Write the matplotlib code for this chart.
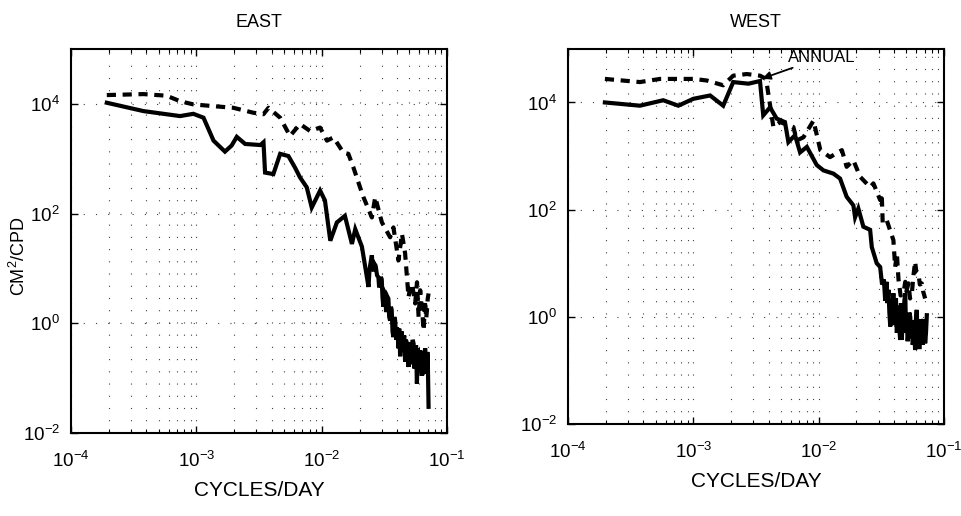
import math
import matplotlib
matplotlib.use("Agg")
import matplotlib.pyplot as plt
from matplotlib.ticker import FixedLocator, LogLocator, NullFormatter, FuncFormatter

plt.rcParams['font.family'] = ['Liberation Sans', 'DejaVu Sans']
plt.rcParams['mathtext.default'] = 'regular'

# ---------------- data (cycles/day, cm^2/cpd) ----------------
east_solid_f = [1.93e-4, 3.78e-4, 7.41e-4, 9.46e-4, 1.14e-3, 1.37e-3, 1.69e-3, 1.91e-3, 2.10e-3,
                2.45e-3, 3.24e-3, 3.43e-3, 3.53e-3, 4.11e-3, 4.66e-3, 5.42e-3, 6.12e-3, 6.71e-3,
                7.59e-3, 8.32e-3, 9.70e-3, 1.06e-2, 1.17e-2, 1.32e-2, 1.53e-2, 1.74e-2, 1.85e-2,
                2.09e-2, 2.36e-2, 2.40e-2, 2.43e-2, 2.47e-2, 2.51e-2, 2.55e-2, 2.60e-2, 2.64e-2,
                2.69e-2, 2.76e-2, 2.83e-2, 2.87e-2, 2.92e-2, 2.96e-2, 3.01e-2, 3.05e-2, 3.10e-2,
                3.15e-2, 3.21e-2, 3.26e-2, 3.31e-2, 3.35e-2, 3.40e-2, 3.45e-2, 3.51e-2, 3.56e-2,
                3.61e-2, 3.67e-2, 3.73e-2, 3.79e-2, 3.85e-2, 3.92e-2, 3.98e-2, 4.03e-2, 4.09e-2,
                4.15e-2, 4.22e-2, 4.28e-2, 4.35e-2, 4.42e-2, 4.49e-2, 4.55e-2, 4.62e-2, 4.69e-2,
                4.76e-2, 4.84e-2, 4.92e-2, 5.00e-2, 5.07e-2, 5.15e-2, 5.22e-2, 5.31e-2, 5.40e-2,
                5.48e-2, 5.56e-2, 5.65e-2, 5.74e-2, 5.83e-2, 5.92e-2, 6.01e-2, 6.10e-2, 6.19e-2,
                6.28e-2, 6.38e-2, 6.49e-2, 6.58e-2, 6.68e-2, 6.79e-2, 6.90e-2, 6.95e-2, 7.00e-2,
                7.06e-2, 7.11e-2]
east_solid_p = [10500, 7400, 6000, 6600, 5600, 2140, 1350, 1740, 2510,
                1860, 1780, 2000, 560, 525, 1230, 1120, 690, 457,
                302, 129, 263, 174, 32, 69, 91, 28, 52,
                25, 4.6, 9.0, 11.2, 14.0, 17.4, 10.0, 8.9, 12.0,
                11.2, 7.5, 6.9, 4.5, 5.0, 7.0, 6.3, 3.0, 2.0,
                3.8, 3.5, 1.6, 2.2, 3.0, 2.8, 1.3, 1.12, 2.0,
                1.78, 0.70, 0.56, 1.3, 1.12, 0.50, 0.85, 0.60, 0.35,
                0.80, 0.25, 0.55, 0.71, 0.30, 0.49, 0.60, 0.20, 0.50,
                0.45, 0.25, 0.16, 0.45, 0.40, 0.20, 0.18, 0.50, 0.43,
                0.15, 0.25, 0.40, 0.079, 0.35, 0.28, 0.15, 0.32, 0.20,
                0.11, 0.30, 0.12, 0.25, 0.35, 0.15, 0.16, 0.30, 0.25,
                0.08, 0.030]

east_dash_f = [1.93e-4, 3.78e-4, 5.79e-4, 7.41e-4, 9.46e-4, 1.37e-3, 1.97e-3, 2.85e-3, 3.43e-3,
               3.76e-3, 4.66e-3, 5.58e-3, 6.71e-3, 8.07e-3, 9.70e-3, 1.10e-2, 1.24e-2, 1.49e-2,
               1.63e-2, 1.79e-2, 2.02e-2, 2.15e-2, 2.51e-2, 2.67e-2, 2.92e-2, 3.02e-2, 3.51e-2,
               3.73e-2, 4.09e-2, 4.36e-2, 4.62e-2, 4.92e-2, 5.08e-2, 5.24e-2, 5.40e-2, 5.56e-2,
               5.75e-2, 5.92e-2, 6.10e-2, 6.20e-2, 6.31e-2, 6.49e-2, 6.68e-2, 6.80e-2, 6.90e-2,
               7.00e-2, 7.11e-2]
east_dash_p = [14500, 15100, 14100, 11200, 9800, 9100, 8500, 6900, 6500,
               8500, 5600, 2600, 4300, 3200, 3700, 2140, 2450, 1290,
               1230, 690, 302, 200, 85, 200, 91, 69, 37,
               56, 14, 43, 19, 3.0, 4.5, 5.2, 3.5, 2.3,
               5.6, 1.3, 4.0, 2.5, 1.8, 0.74, 2.6, 1.2, 1.7,
               2.8, 3.5]

west_solid_f = [1.97e-4, 3.75e-4, 5.75e-4, 7.59e-4, 1.00e-3, 1.36e-3, 1.73e-3, 2.08e-3, 2.75e-3,
                3.40e-3, 3.61e-3, 4.09e-3, 4.62e-3, 5.38e-3, 5.73e-3, 6.47e-3, 7.10e-3, 8.04e-3,
                9.64e-3, 1.09e-2, 1.31e-2, 1.48e-2, 1.67e-2, 1.89e-2, 1.95e-2, 2.07e-2, 2.27e-2,
                2.57e-2, 2.65e-2, 2.90e-2, 3.09e-2, 3.20e-2, 3.31e-2, 3.39e-2, 3.47e-2, 3.53e-2,
                3.60e-2, 3.66e-2, 3.72e-2, 3.79e-2, 3.86e-2, 3.94e-2, 4.00e-2, 4.07e-2, 4.13e-2,
                4.20e-2, 4.26e-2, 4.33e-2, 4.40e-2, 4.46e-2, 4.53e-2, 4.60e-2, 4.68e-2, 4.75e-2,
                4.82e-2, 4.90e-2, 4.97e-2, 5.05e-2, 5.12e-2, 5.20e-2, 5.28e-2, 5.37e-2, 5.45e-2,
                5.53e-2, 5.61e-2, 5.70e-2, 5.78e-2, 5.87e-2, 5.96e-2, 6.05e-2, 6.14e-2, 6.24e-2,
                6.34e-2, 6.44e-2, 6.54e-2, 6.64e-2, 6.74e-2, 6.84e-2, 6.95e-2, 7.06e-2, 7.17e-2,
                7.28e-2]
west_solid_p = [10000, 8700, 11000, 8700, 11700, 13500, 8700, 24000, 22400,
                25100, 5750, 8100, 5000, 4300, 1820, 2450, 1170, 1480,
                680, 540, 470, 380, 174, 120, 72, 105, 48,
                42, 20, 10, 8.5, 4.0, 5.0, 2.0, 4.5, 1.8,
                3.2, 1.2, 0.66, 2.0, 1.2, 2.75, 0.70, 1.0, 2.2,
                0.50, 1.6, 1.35, 0.60, 0.37, 1.8, 0.37, 1.2, 0.60,
                2.0, 2.75, 0.50, 0.80, 0.35, 0.56, 1.2, 1.0, 0.40,
                0.87, 0.30, 0.35, 0.70, 0.24, 0.90, 1.35, 0.40, 0.50,
                0.25, 0.43, 0.90, 0.80, 0.30, 0.56, 0.90, 0.32, 0.50,
                1.07]

west_dash_f = [1.97e-4, 3.75e-4, 5.42e-4, 1.00e-3, 1.28e-3, 1.73e-3, 2.08e-3, 2.67e-3, 3.40e-3,
               3.80e-3, 4.35e-3, 4.92e-3, 6.28e-3, 6.68e-3, 7.55e-3, 9.08e-3, 1.03e-2, 1.23e-2,
               1.53e-2, 1.67e-2, 1.89e-2, 2.14e-2, 2.57e-2, 2.73e-2, 3.09e-2, 3.18e-2, 3.24e-2,
               3.49e-2, 3.94e-2, 4.07e-2, 4.20e-2, 4.33e-2, 4.50e-2, 4.74e-2, 4.90e-2, 5.00e-2,
               5.20e-2, 5.35e-2, 5.53e-2, 5.70e-2, 5.87e-2, 6.00e-2, 6.25e-2, 6.40e-2, 6.64e-2,
               6.80e-2, 7.06e-2]
west_dash_p = [27500, 24000, 27500, 27500, 25700, 20900, 31600, 33900, 31600,
               27500, 3470, 4300, 3470, 1950, 2240, 4570, 1290, 955,
               1290, 630, 830, 410, 263, 309, 151, 200, 55,
               63, 27, 8.5, 15, 4.9, 2.5, 2.75, 4.5, 3.0,
               4.2, 2.2, 2.75, 6.0, 10.7, 7.0, 6.5, 4.0, 4.2,
               3.0, 2.2]

x_limits = (1e-4, 1e-1)
y_limits = (1e-2, 1e5)
y_ticks = [1e-2, 1e0, 1e2, 1e4]
x_ticks = [1e-4, 1e-3, 1e-2, 1e-1]

annual_xy = (3.55e-3, 2.8e4)
annual_text_xy = (5.7e-3, 6.9e4)

# ---------------- figure ----------------
fig = plt.figure(figsize=(9.62, 5.16), dpi=100)
ax1 = fig.add_axes([0.0738, 0.1609, 0.391, 0.744])
ax2 = fig.add_axes([0.5904, 0.1783, 0.391, 0.727])

fmt = FuncFormatter(lambda v, pos: r'$\mathregular{10^{%d}}$' % round(math.log10(v)))

for ax, title, sf, sp, df, dp in [(ax1, 'EAST', east_solid_f, east_solid_p, east_dash_f, east_dash_p),
                                   (ax2, 'WEST', west_solid_f, west_solid_p, west_dash_f, west_dash_p)]:
    ax.set_xscale('log')
    ax.set_yscale('log')
    ax.set_xlim(*x_limits)
    ax.set_ylim(*y_limits)
    ax.plot(sf, sp, color='black', lw=3.0, solid_joinstyle='miter')
    ax.plot(df, dp, color='black', lw=3.0, linestyle=(0, (2.2, 1.6)))
    ax.xaxis.set_major_locator(FixedLocator(x_ticks))
    ax.xaxis.set_minor_locator(LogLocator(base=10, subs=range(2, 10), numticks=20))
    ax.xaxis.set_minor_formatter(NullFormatter())
    ax.yaxis.set_major_locator(FixedLocator(y_ticks))
    ax.yaxis.set_minor_locator(FixedLocator([]))
    ax.xaxis.set_major_formatter(fmt)
    ax.yaxis.set_major_formatter(fmt)
    ax.tick_params(which='both', direction='in', top=True, right=True, labelsize=13.5)
    ax.tick_params(axis='x', pad=13)
    ax.tick_params(axis='y', pad=8)
    ax.tick_params(which='major', length=5, width=1)
    ax.tick_params(which='minor', length=3, width=0.8)
    ax.grid(True, which='both', axis='x', color='0.25', lw=0.8, linestyle=(0, (1, 10)))
    ax.grid(True, which='major', axis='y', color='0.25', lw=0.8, linestyle=(0, (1, 10)))
    for s in ax.spines.values():
        s.set_linewidth(1.5)
    ax.set_title(title, fontsize=13, pad=16)
    ax.set_xlabel('CYCLES/DAY', fontsize=15, labelpad=7)

ax1.set_ylabel(r'CM$^2$/CPD', fontsize=13)
ax1.yaxis.set_label_coords(-0.112, 0.46)

ax2.annotate('ANNUAL', xy=annual_xy, xytext=annual_text_xy, fontsize=12, ha='left', va='center',
             arrowprops=dict(arrowstyle='-|>', color='black', lw=1.3, mutation_scale=12,
                             shrinkA=0, shrinkB=0))

fig.savefig('out.png', dpi=100)
